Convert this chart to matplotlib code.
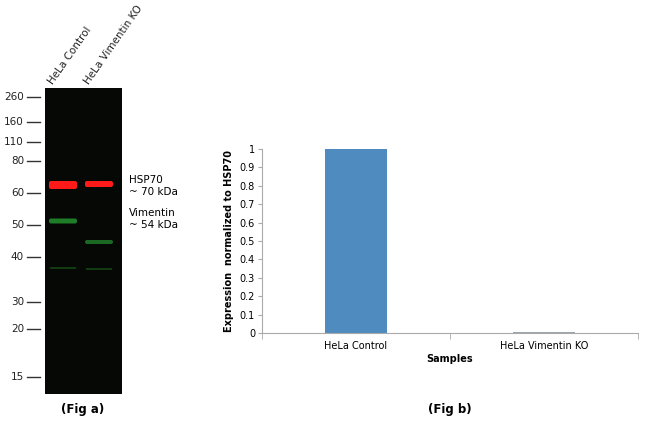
import matplotlib
matplotlib.use("Agg")
import matplotlib.pyplot as plt
from matplotlib.patches import FancyBboxPatch

# Fig b data
samples = ["HeLa Control", "HeLa Vimentin KO"]
expression = [1.0, 0.003]

# Fig a data (marker labels and their row positions in the blot panel, px)
marker_labels = ["260", "160", "110", "80", "60", "50", "40", "30", "20", "15"]
marker_rows = [97, 122, 142, 161, 193, 225, 257, 302, 329, 377]
lanes = ["HeLa Control", "HeLa Vimentin KO"]
lane_x = [63, 99]
# bands: (lane index, row, color, alpha, height)
band_lane = [0, 1, 0, 1, 0, 1]
band_row = [185, 184, 221, 242, 268, 269]
band_color = ["#ff1a1a", "#ff1a1a", "#23922f", "#23922f", "#1f6f1f", "#1f6f1f"]
band_alpha = [1.0, 1.0, 0.85, 0.7, 0.5, 0.5]
band_h = [8, 6, 5, 4, 2, 2]

W, H = 650, 426
fig = plt.figure(figsize=(6.5, 4.26), dpi=100)

# ---- Fig a: blot panel in pixel coordinates
x0, x1, y0, y1 = 45, 122, 88, 394
axa = fig.add_axes([x0 / W, 1 - y1 / H, (x1 - x0) / W, (y1 - y0) / H])
axa.set_xlim(x0, x1)
axa.set_ylim(y1, y0)
axa.set_facecolor("#050805")
for s in axa.spines.values():
    s.set_visible(False)
axa.set_xticks([]); axa.set_yticks([])
for li, r, c, a, h in zip(band_lane, band_row, band_color, band_alpha, band_h):
    xc = lane_x[li]
    axa.add_patch(FancyBboxPatch((xc - 14, r - h / 2), 28, h,
                                 boxstyle="round,pad=0,rounding_size=2",
                                 fc=c, ec="none", alpha=a))
for lab, r in zip(marker_labels, marker_rows):
    axa.plot([27, 40], [r, r], color="#333333", lw=1, clip_on=False)
    axa.text(24, r, lab, ha="right", va="center", fontsize=7.5,
             color="#222222", clip_on=False)
for lab, xc in zip(lanes, lane_x):
    axa.text(xc - 8, 86, lab, rotation=55, ha="left", va="bottom",
             fontsize=7.5, color="#222222", rotation_mode="anchor", clip_on=False)
axa.text(129, 180, "HSP70", fontsize=7.5, va="center", clip_on=False)
axa.text(129, 192, "~ 70 kDa", fontsize=7.5, va="center", clip_on=False)
axa.text(129, 213, "Vimentin", fontsize=7.5, va="center", clip_on=False)
axa.text(129, 225, "~ 54 kDa", fontsize=7.5, va="center", clip_on=False)
fig.text(83 / W, 1 - 410 / H, "(Fig a)", ha="center", va="center",
         fontsize=8.5, fontweight="bold")

# ---- Fig b: bar chart
axb = fig.add_axes([262 / W, 1 - 333 / H, (638 - 262) / W, (333 - 149) / H])
xs = range(len(samples))
axb.bar(xs, expression, width=0.33, color=["#4f8bbf", "#9aa5b0"])
axb.set_xlim(-0.5, 1.5)
axb.set_ylim(0, 1)
axb.set_yticks([i / 10 for i in range(11)])
axb.set_yticklabels(["0", "0.1", "0.2", "0.3", "0.4", "0.5", "0.6", "0.7",
                     "0.8", "0.9", "1"])
axb.set_xticks(list(xs))
axb.set_xticklabels(samples)
axb.set_xticks([-0.5, 0.5, 1.5], minor=True)
axb.tick_params(axis="x", which="major", length=0, labelsize=7, pad=6)
axb.tick_params(axis="x", which="minor", length=4, color="#aaaaaa")
axb.tick_params(axis="y", labelsize=7, length=3, color="#aaaaaa", pad=2)
for s in ["top", "right"]:
    axb.spines[s].set_visible(False)
axb.spines["left"].set_color("#aaaaaa")
axb.spines["bottom"].set_color("#aaaaaa")
axb.set_xlabel("Samples", fontsize=7, fontweight="bold", labelpad=2)
axb.set_ylabel("Expression  normalized to HSP70", fontsize=7,
               fontweight="bold", labelpad=4)
fig.text(450 / W, 1 - 410 / H, "(Fig b)", ha="center", va="center",
         fontsize=8.5, fontweight="bold")

fig.savefig("out.png", dpi=100)
